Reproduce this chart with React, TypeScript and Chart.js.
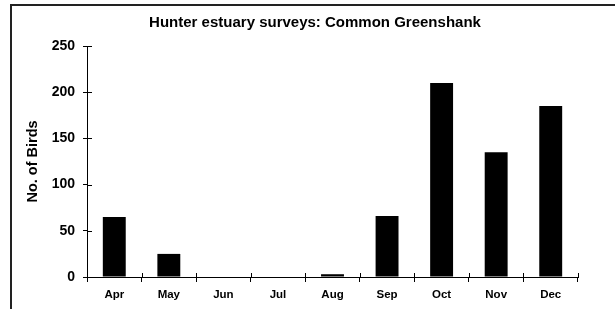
import React, { useEffect, useRef } from "react";
import { Chart, registerables } from "chart.js";

Chart.register(...registerables);

const months = ["Apr", "May", "Jun", "Jul", "Aug", "Sep", "Oct", "Nov", "Dec"];
const birdCounts = [65, 25, 0, 0, 3, 66, 210, 135, 185];
const yTicks = [0, 50, 100, 150, 200, 250];
const chartTitle = "Hunter estuary surveys: Common Greenshank";
const yAxisTitle = "No. of Birds";

const FONT = "'Liberation Sans', Arial, sans-serif";

const framePlugin = {
  id: "frameAndTicks",
  beforeDraw(chart: any) {
    const ctx = chart.ctx;
    ctx.save();
    ctx.strokeStyle = "#222";
    ctx.lineWidth = 2;
    ctx.strokeRect(11, 5, 800, 500);
    ctx.restore();
  },
  afterDraw(chart: any) {
    const ctx = chart.ctx;
    const x = chart.scales.x;
    const y = chart.scales.y;
    const area = chart.chartArea;
    ctx.save();
    ctx.strokeStyle = "#000";
    ctx.lineWidth = 1;
    yTicks.forEach((v) => {
      const py = Math.round(y.getPixelForValue(v)) + 0.5;
      ctx.beginPath();
      ctx.moveTo(area.left, py);
      ctx.lineTo(area.left + 5, py);
      ctx.stroke();
    });
    for (let i = 0; i <= months.length; i++) {
      const px = Math.round(x.getPixelForValue(i - 0.5)) + 0.5;
      ctx.beginPath();
      ctx.moveTo(px, area.bottom);
      ctx.lineTo(px, area.bottom - 4);
      ctx.stroke();
    }
    ctx.fillStyle = "#000";
    ctx.font = `bold 15px ${FONT}`;
    ctx.textAlign = "center";
    ctx.textBaseline = "middle";
    ctx.fillText(chartTitle, 315, 23);
    ctx.restore();
  },
};

export default function App() {
  const ref = useRef<HTMLCanvasElement>(null);
  useEffect(() => {
    if (!ref.current) return;
    const chart = new Chart(ref.current, {
      type: "bar",
      data: {
        labels: months,
        datasets: [
          {
            data: birdCounts,
            backgroundColor: "#000",
            borderWidth: 0,
            categoryPercentage: 1,
            barPercentage: 0.42,
          },
        ],
      },
      options: {
        animation: false,
        responsive: false,
        layout: { padding: { top: 46, right: 37, bottom: 0, left: 0 } },
        plugins: {
          legend: { display: false },
          title: { display: false },
          tooltip: { enabled: false },
        },
        scales: {
          x: {
            grid: {
              display: true,
              drawOnChartArea: false,
              drawTicks: true,
              tickLength: 5,
              color: "#000",
              offset: true,
            },
            border: { display: true, color: "#000", width: 1 },
            ticks: {
              color: "#000",
              font: { family: FONT, size: 11.5, weight: "bold" },
              padding: 6,
              maxRotation: 0,
            },
            afterFit: (s: any) => {
              s.height = 32;
            },
          },
          y: {
            min: 0,
            max: 250,
            afterBuildTicks: (s: any) => {
              s.ticks = yTicks.map((v) => ({ value: v }));
            },
            grid: {
              display: true,
              drawOnChartArea: false,
              drawTicks: true,
              tickLength: 4,
              color: "#000",
            },
            border: { display: true, color: "#000", width: 1 },
            ticks: {
              color: "#000",
              font: { family: FONT, size: 14, weight: "bold" },
              padding: 8,
            },
            title: {
              display: true,
              text: yAxisTitle,
              color: "#000",
              font: { family: FONT, size: 14.5, weight: "bold" },
              padding: { top: 24, bottom: 0 },
            },
            afterFit: (s: any) => {
              s.width = 87;
            },
          },
        },
      },
      plugins: [framePlugin],
    });
    return () => chart.destroy();
  }, []);
  return (
    <div style={{ position: "absolute", left: 0, top: 0, width: 615, height: 309 }}>
      <canvas ref={ref} width={615} height={309} style={{ display: "block" }} />
    </div>
  );
}
